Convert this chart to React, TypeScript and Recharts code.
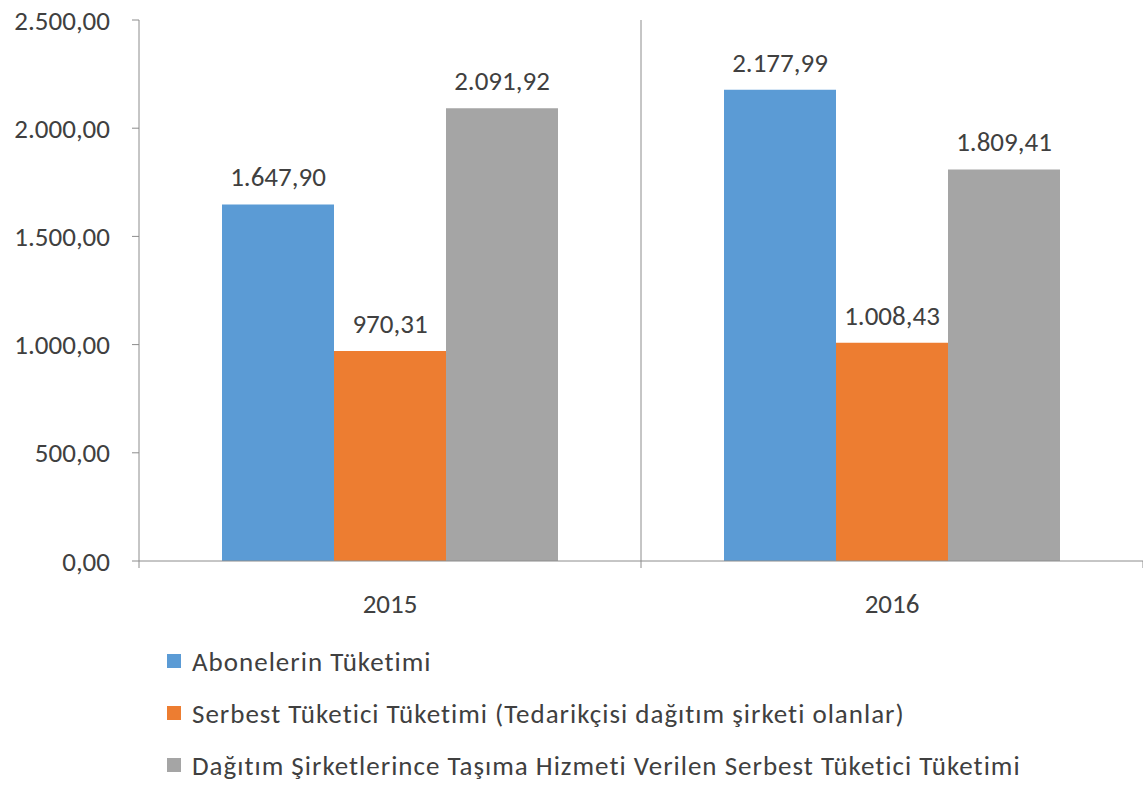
import { BarChart, Bar, XAxis, YAxis, CartesianGrid, Legend, LabelList } from "recharts"

const YEARS = ["2015", "2016"]
const ABONE = [1647.9, 2177.99]
const SERBEST = [970.31, 1008.43]
const TASIMA = [2091.92, 1809.41]
const Y_TICKS = [0, 500, 1000, 1500, 2000, 2500]

const SERIES = [
  { key: "abone", name: "Abonelerin Tüketimi", color: "#5B9BD5" },
  { key: "serbest", name: "Serbest Tüketici Tüketimi (Tedarikçisi dağıtım şirketi olanlar)", color: "#ED7D31" },
  { key: "tasima", name: "Dağıtım Şirketlerince Taşıma Hizmeti Verilen Serbest Tüketici Tüketimi", color: "#A5A5A5" },
]

const data = YEARS.map((year, i) => ({
  year,
  abone: ABONE[i],
  serbest: SERBEST[i],
  tasima: TASIMA[i],
}))

const FONT = "Carlito, Lato, 'Open Sans', sans-serif"
const TEXT = "#404040"
const AXIS = "#8C8C8C"
const FS = 27

// Turkish number format: 1.647,90
function fmt(v: number) {
  const [int, dec] = v.toFixed(2).split(".")
  return int.replace(/\B(?=(\d{3})+(?!\d))/g, ".") + "," + dec
}

function YearTick(props: any) {
  const { x, y, payload, index, width } = props
  const band = width / YEARS.length
  const left = x - band / 2
  return (
    <g>
      <line x1={left} x2={left} y1={y} y2={y + 7} stroke={AXIS} />
      {index === YEARS.length - 1 && (
        <line x1={x + band / 2} x2={x + band / 2} y1={y} y2={y + 7} stroke={AXIS} />
      )}
      <text x={x} y={y + 42} textAnchor="middle" dominantBaseline="central" fill={TEXT} fontSize={FS} fontFamily={FONT}>
        {payload.value}
      </text>
    </g>
  )
}

function LegendBox() {
  return (
    <div style={{ height: 150, paddingLeft: 167, fontFamily: FONT, fontSize: FS, color: TEXT, letterSpacing: 1 }}>
      {SERIES.map((s) => (
        <div key={s.key} style={{ height: 52, display: "flex", alignItems: "center" }}>
          <span style={{ width: 14, height: 14, background: s.color, marginRight: 11, display: "inline-block" }} />
          <span>{s.name}</span>
        </div>
      ))}
    </div>
  )
}

export default function App() {
  return (
    <div style={{ width: 1143, height: 785, background: "#fff" }}>
      <style>{`body{margin:0}`}</style>
      <BarChart
        width={1143}
        height={785}
        data={data}
        margin={{ top: 20, right: 0, bottom: 0, left: 0 }}
        barGap={0}
      >
        <CartesianGrid
          horizontal={false}
          stroke={AXIS}
          verticalCoordinatesGenerator={({ offset }: any) =>
            YEARS.slice(1).map((_, i) => offset.left + (offset.width * (i + 1)) / YEARS.length)
          }
        />
        <XAxis
          dataKey="year"
          height={74}
          stroke={AXIS}
          tickLine={false}
          tickSize={0}
          tickMargin={0}
          tick={<YearTick />}
        />
        <YAxis
          width={139}
          domain={[0, 2500]}
          ticks={Y_TICKS}
          tickFormatter={fmt}
          stroke={AXIS}
          tickSize={7}
          tickMargin={22}
          tick={{ fill: TEXT, fontSize: FS, fontFamily: FONT }}
        />
        <Legend verticalAlign="bottom" layout="horizontal" content={<LegendBox />} />
        {SERIES.map((s) => (
          <Bar key={s.key} dataKey={s.key} name={s.name} fill={s.color} barSize={112} isAnimationActive={false}>
            <LabelList
              dataKey={s.key}
              position="top"
              offset={18}
              formatter={(v: any) => fmt(Number(v))}
              fill={TEXT}
              fontSize={FS}
              fontFamily={FONT}
            />
          </Bar>
        ))}
      </BarChart>
    </div>
  )
}
